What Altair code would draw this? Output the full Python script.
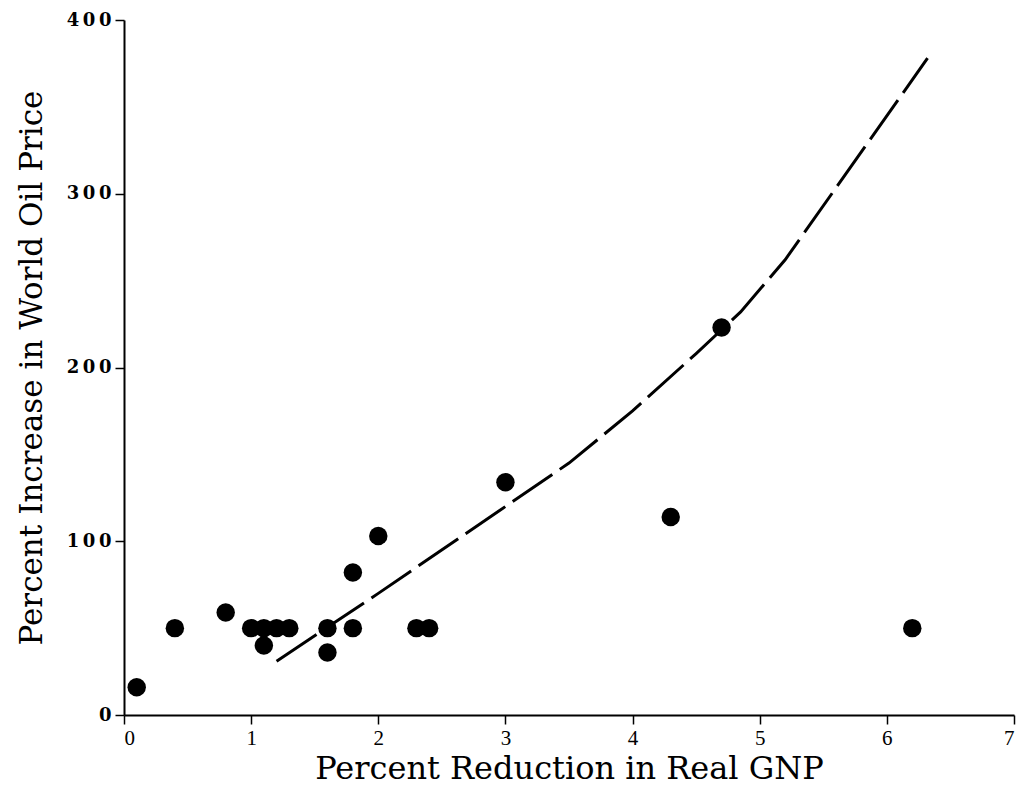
import altair as alt
import pandas as pd

# Scatter points: percent reduction in real GNP vs percent increase in world oil price
gnp_reduction = [0.1, 0.4, 0.8, 1.0, 1.1, 1.1, 1.2, 1.3, 1.6, 1.6, 1.8, 1.8, 2.0, 2.3, 2.4, 3.0, 4.3, 4.7, 6.2]
oil_increase = [16, 50, 59, 50, 50, 40, 50, 50, 50, 36, 50, 82, 103, 50, 50, 134, 114, 223, 50]

# Dashed fitted curve
curve_x = [1.2, 2.0, 3.0, 3.5, 4.0, 4.5, 4.85, 5.2, 6.32]
curve_y = [31, 70, 120, 145, 175, 208, 232, 262, 378]

x_ticks = [0, 1, 2, 3, 4, 5, 6, 7]
y_ticks = [0, 100, 200, 300, 400]

pts = pd.DataFrame({"x": gnp_reduction, "y": oil_increase})
crv = pd.DataFrame({"x": curve_x, "y": curve_y})

xscale = alt.Scale(domain=[0, 7], nice=False, zero=False)
yscale = alt.Scale(domain=[0, 400], nice=False, zero=False)

xaxis = alt.Axis(
    values=x_ticks, format="d", grid=False, domainColor="black", domainWidth=2,
    tickColor="black", tickWidth=1.5, tickSize=9,
    labelFont="Liberation Serif", labelFontSize=21, labelColor="black",
    labelPadding=3,
    title="Percent Reduction in Real GNP",
    titleFont="DejaVu Serif", titleFontSize=32, titleFontWeight="normal",
    titleColor="black", titlePadding=5,
)
yaxis = alt.Axis(
    values=y_ticks, format="d", grid=False, domainColor="black", domainWidth=2,
    tickColor="black", tickWidth=1.5, tickSize=9,
    labelFont="DejaVu Serif", labelFontSize=18, labelFontWeight="bold",
    labelColor="black", labelPadding=4,
    labelExpr="join(split(datum.label, ''), '\u2009')",
    title="Percent Increase in World Oil Price",
    titleFont="DejaVu Serif", titleFontSize=31, titleFontWeight="normal",
    titleColor="black", titlePadding=18,
)

points = alt.Chart(pts).mark_circle(size=340, color="black", opacity=1).encode(
    x=alt.X("x:Q", scale=xscale, axis=xaxis),
    y=alt.Y("y:Q", scale=yscale, axis=yaxis),
)

line = alt.Chart(crv).mark_line(color="black", strokeWidth=3, strokeDash=[48, 9]).encode(
    x=alt.X("x:Q", scale=xscale),
    y=alt.Y("y:Q", scale=yscale),
)

chart = (line + points).properties(
    width=890, height=695,
    autosize=alt.AutoSizeParams(type="none"),
    padding={"left": 116, "top": 12, "right": 9, "bottom": 71},
    background="white",
).configure_view(stroke=None)

chart.save("out.html", embed_options={"renderer": "svg", "actions": False})
